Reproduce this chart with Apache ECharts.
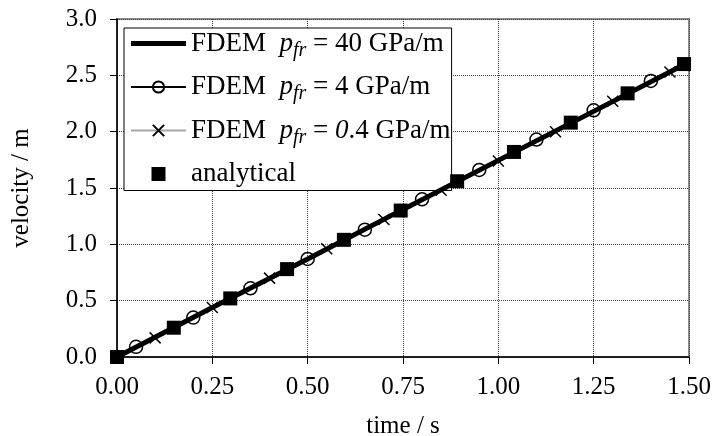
<!DOCTYPE html>
<html>
<head>
<meta charset="utf-8">
<script src="https://cdn.jsdelivr.net/npm/echarts@6/dist/echarts.min.js"></script>
<style>
  html, body { margin: 0; padding: 0; background: #fff; }
  #chart { width: 715px; height: 436px; }
</style>
</head>
<body>
<div id="chart"></div>
<script>
// values
const xTicks = [0, 0.25, 0.5, 0.75, 1.0, 1.25, 1.5]
const yTicks = [0, 0.5, 1.0, 1.5, 2.0, 2.5, 3.0]

// FDEM p_fr = 40 GPa/m (thick line, no markers)
const time40 = [0, 0.25, 0.5, 0.75, 1.0, 1.25, 1.49]
const vel40 = [0, 0.44, 0.87, 1.31, 1.745, 2.18, 2.6]

// FDEM p_fr = 4 GPa/m (circles)
const time4 = [0, 0.05, 0.2, 0.35, 0.5, 0.65, 0.8, 0.95, 1.1, 1.25, 1.4, 1.49]
const vel4 = [0, 0.09, 0.35, 0.61, 0.87, 1.13, 1.4, 1.66, 1.93, 2.19, 2.45, 2.6]

// FDEM p_fr = 0.4 GPa/m (crosses)
const time04 = [0, 0.1, 0.25, 0.4, 0.55, 0.7, 0.85, 1.0, 1.15, 1.3, 1.45, 1.49]
const vel04 = [0, 0.17, 0.44, 0.7, 0.96, 1.22, 1.48, 1.74, 2.0, 2.27, 2.53, 2.6]

// analytical (squares)
const timeAn = [0, 0.149, 0.297, 0.446, 0.595, 0.744, 0.892, 1.041, 1.19, 1.339, 1.487]
const velAn = [0, 0.26, 0.52, 0.78, 1.04, 1.3, 1.56, 1.82, 2.08, 2.34, 2.6]

const serif = 'Liberation Serif'
const fs = 25
const lfs = 27
const crossPath = 'path://M0,0L10,10M10,0L0,10'

// markers only on inner points, the ends are plain line
function withMarkers(xs, ys) {
  return xs.map((x, i) => {
    const item = { value: [x, ys[i]] }
    if (i === 0 || i === xs.length - 1) item.symbol = 'none'
    return item
  })
}

const chart = echarts.init(document.getElementById('chart'))

const legendRich = {
  n: { fontFamily: serif, fontSize: lfs, color: '#000' },
  i: { fontFamily: serif, fontSize: lfs, fontStyle: 'italic', color: '#000' },
  s: { fontFamily: serif, fontSize: 20, fontStyle: 'italic', color: '#000', padding: [14, 0, 0, 0] }
}

chart.setOption({
  animation: false,
  backgroundColor: '#fff',
  grid: {
    left: 117,
    right: 26,
    top: 19,
    bottom: 79,
    outerBoundsMode: 'none',
    containLabel: false,
    show: true,
    borderColor: '#8c8c8c',
    borderWidth: 2,
    backgroundColor: 'transparent'
  },
  legend: {
    orient: 'vertical',
    left: 124,
    top: 28,
    padding: [2, 1, 3, 6],
    itemGap: 13,
    itemWidth: 55,
    itemHeight: 14,
    backgroundColor: '#fff',
    borderColor: '#000',
    borderWidth: 1,
    borderRadius: 0,
    textStyle: { fontFamily: serif, fontSize: lfs, color: '#000', rich: legendRich },
    data: [
      { name: 'p40', icon: 'path://M0,0h55v5h-55z', itemStyle: { color: '#000' } },
      { name: 'p4' },
      { name: 'p04' },
      { name: 'analytical', icon: 'path://M0,0h10v10h-10z' }
    ],
    formatter(name) {
      if (name === 'p40') return '{n|FDEM  }{i|p}{s|fr}{n| = 40 GPa/m}'
      if (name === 'p4') return '{n|FDEM  }{i|p}{s|fr}{n| = 4 GPa/m}'
      if (name === 'p04') return '{n|FDEM  }{i|p}{s|fr}{n| = }{i|0}{n|.4 GPa/m}'
      return '{n|analytical}'
    }
  },
  xAxis: {
    type: 'value',
    min: 0,
    max: 1.5,
    interval: 0.25,
    name: 'time / s',
    nameLocation: 'middle',
    nameGap: 57,
    nameTextStyle: { fontFamily: serif, fontSize: fs, color: '#000' },
    axisLine: { onZero: false, lineStyle: { color: '#000', width: 1.5 } },
    axisTick: { show: true, length: 7, lineStyle: { color: '#000' } },
    axisLabel: {
      fontFamily: serif,
      fontSize: fs,
      color: '#000',
      margin: 18,
      formatter: v => xTicks.includes(v) ? v.toFixed(2) : ''
    },
    splitLine: { show: true, lineStyle: { color: '#444', type: [1, 1], width: 1 } }
  },
  yAxis: {
    type: 'value',
    min: 0,
    max: 3,
    interval: 0.5,
    name: 'velocity / m',
    nameLocation: 'middle',
    nameGap: 83,
    nameTextStyle: { fontFamily: serif, fontSize: fs, color: '#000' },
    axisLine: { show: true, onZero: false, lineStyle: { color: '#000', width: 1.5 } },
    axisTick: { show: true, length: 7, lineStyle: { color: '#000' } },
    axisLabel: {
      fontFamily: serif,
      fontSize: fs,
      color: '#000',
      margin: 20,
      formatter: v => yTicks.includes(v) ? v.toFixed(1) : ''
    },
    splitLine: { show: true, lineStyle: { color: '#444', type: [1, 1], width: 1 } }
  },
  series: [
    {
      name: 'p40',
      type: 'line',
      z: 4,
      symbol: 'none',
      lineStyle: { color: '#000', width: 5 },
      itemStyle: { color: '#000' },
      data: time40.map((x, i) => [x, vel40[i]])
    },
    {
      name: 'p4',
      type: 'line',
      z: 3,
      symbol: 'circle',
      symbolSize: 13,
      showAllSymbol: true,
      lineStyle: { color: '#000', width: 2 },
      itemStyle: { color: 'rgba(0,0,0,0)', borderColor: '#000', borderWidth: 1.5 },
      data: withMarkers(time4, vel4)
    },
    {
      name: 'p04',
      type: 'line',
      z: 2,
      symbol: crossPath,
      symbolSize: 11,
      showAllSymbol: true,
      lineStyle: { color: '#a6a6a6', width: 3 },
      itemStyle: { color: '#000', borderColor: '#000', borderWidth: 1.5 },
      data: withMarkers(time04, vel04)
    },
    {
      name: 'analytical',
      type: 'scatter',
      z: 5,
      symbol: 'rect',
      symbolSize: 14,
      itemStyle: { color: '#000', opacity: 1 },
      data: timeAn.map((x, i) => [x, velAn[i]])
    }
  ]
})
</script>
</body>
</html>
